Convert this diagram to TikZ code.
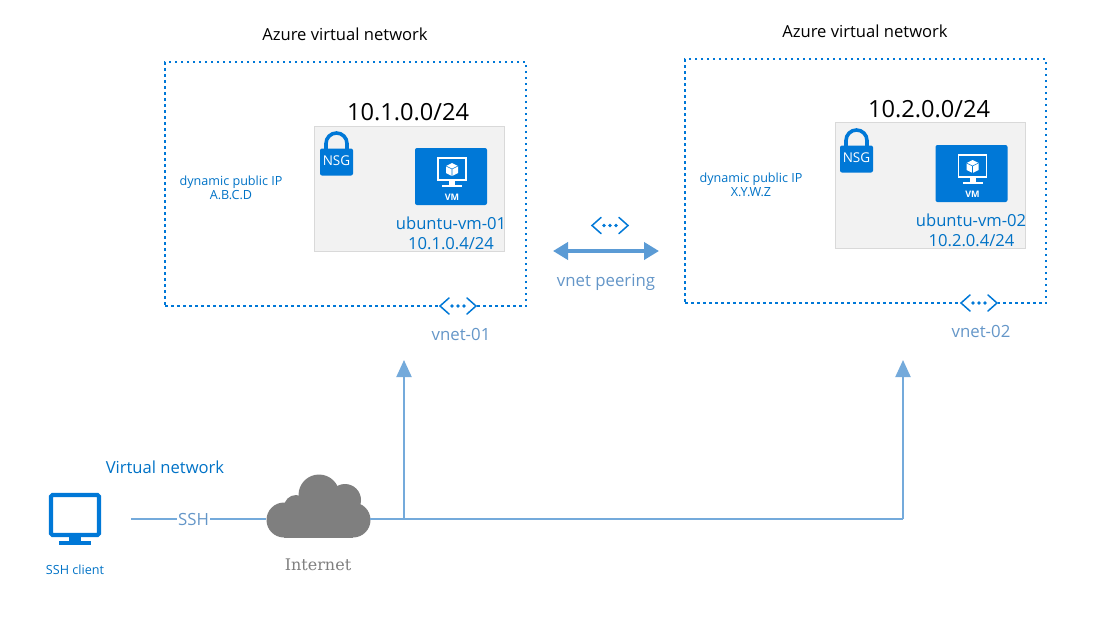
\documentclass[tikz,border=0pt]{standalone}
\usepackage{fontspec}
\setmainfont{Open Sans}
\newfontfamily\serifname{DejaVu Serif}
\usetikzlibrary{arrows.meta}
\definecolor{azureblue}{HTML}{0078D7}
\definecolor{textblue}{HTML}{0072C6}
\definecolor{linkblue}{HTML}{5B9BD5}
\definecolor{labelblue}{HTML}{6496C8}
\definecolor{panelgray}{HTML}{F2F2F2}
\definecolor{cloudgray}{HTML}{7F7F7F}
\newcommand{\fs}[1]{\fontsize{#1}{#1}\selectfont}
\tikzset{
  vnetbox/.style = {draw = azureblue, line width = 2.5pt, dash pattern = on 2.5pt off 3.5pt, minimum width = 361pt, minimum height = 244pt},
  subnetbox/.style = {draw = black!15, fill = panelgray, line width = 0.9pt, minimum width = 190pt, minimum height = 125.5pt},
  vmbox/.style = {fill = azureblue, rounded corners = 2pt, minimum width = 72pt, minimum height = 57pt},
  titlelabel/.style = {font = \fs{16.6}, text = black, inner sep = 0pt},
  cidrlabel/.style = {font = \fs{23.6}, text = black, inner sep = 0pt},
  bluelabel/.style = {font = \fs{16.6}, text = textblue, inner sep = 0pt, align = center},
  smalllabel/.style = {font = \fs{12.6}, text = textblue, inner sep = 0pt, align = center},
  palelabel/.style = {font = \fs{16.8}, text = labelblue, inner sep = 0pt},
  link/.style = {draw = linkblue!85, line width = 2.1pt},
  uplink/.style = {link, -{Triangle[width = 15pt, length = 17pt]}},
  peerlink/.style = {draw = linkblue, line width = 4.5pt, {Triangle[width = 17pt, length = 15pt]}-{Triangle[width = 17pt, length = 15pt]}},
  % vnet glyph: two chevrons and three dots
  vnet icon/.pic = {
    \draw[azureblue, line width = 1.5pt, line cap = round] (-9, -8) -- (-18, 0) -- (-9, 8) (9, -8) -- (18, 0) -- (9, 8);
    \foreach \dotx in {-6, 0, 6}
      \fill[azureblue] (\dotx, 0) circle (1.9pt);
  },
  vm icon/.pic = {
    \draw[white, line width = 1.8pt] (-14, -18) rectangle (14, 4);
    \fill[white] (-3, 4) rectangle (3, 9);
    \fill[white] (-10, 9) rectangle (10, 11);
    \fill[white] (0, -13) -- (6, -10) -- (6, -3) -- (0, 0) -- (-6, -3) -- (-6, -10) -- cycle;
    \draw[azureblue, line width = 0.6pt] (-6, -10) -- (0, -7) -- (6, -10) (0, -7) -- (0, 0);
    \node[white, inner sep = 0pt, font = \bfseries\fs{9}] at (0, 21) {VM};
  },
  nsg icon/.pic = {
    \draw[azureblue, line width = 3.6pt] (-10.5, 2) -- (-10.5, -6) arc[start angle = 180, end angle = 0, radius = 10.5pt] -- (10.5, 2);
    \fill[azureblue, rounded corners = 2pt] (-16.5, -1) rectangle (16.5, 26);
    \node[white, inner sep = 0pt, font = \fs{13.5}] at (0, 11.5) {NSG};
  },
  monitor icon/.pic = {
    \draw[azureblue, line width = 4.2pt, rounded corners = 1.5pt] (-24, -22) rectangle (24, 18);
    \fill[azureblue] (-6, 20) rectangle (6, 24);
    \fill[azureblue] (-16, 24) rectangle (16, 28);
  },
  cloud icon/.pic = {
    \fill[cloudgray] (-34, -10) rectangle (35, 18.5);
    \fill[cloudgray] (-34, 1) circle (17.5pt);
    \fill[cloudgray] (35, 1) circle (17.5pt);
    \fill[cloudgray] (1, -24) circle (20.5pt);
    \fill[cloudgray] (27, -19) circle (16pt);
    \fill[cloudgray] (-22, -12) circle (12pt);
    \fill[cloudgray] (-19, -24) rectangle (30, 0);
  }
}

\begin{document}
\begin{tikzpicture}[x = 1pt, y = -1pt]
\useasboundingbox (0, 0) rectangle (1100, 619);

\node (vnet_a) [vnetbox] at (345.5, 184) {};
\node (vnet_b) [vnetbox] at (865.5, 181) {};

\node (title_a) [titlelabel] at (345, 34) {Azure virtual network};
\node (title_b) [titlelabel] at (865, 31) {Azure virtual network};

\node (subnet_a) [subnetbox] at (409.5, 189) {};
\node (subnet_b) [subnetbox] at (930, 185.5) {};

\node (cidr_a) [cidrlabel] at (408, 112) {10.1.0.0/24};
\node (cidr_b) [cidrlabel] at (929, 109) {10.2.0.0/24};

\pic at (336.5, 149.5) {nsg icon};
\pic at (856.5, 146.5) {nsg icon};

\node (vm_a) [vmbox] at (451, 176.5) {};
\pic at (452, 176) {vm icon};
\node (vm_b) [vmbox] at (971.5, 173.5) {};
\pic at (972.5, 173) {vm icon};

\node (vm_name_a) [bluelabel] at (451, 223) {ubuntu-vm-01};
\node (vm_ip_a) [bluelabel] at (451, 244) {10.1.0.4/24};
\node (vm_name_b) [bluelabel] at (971, 220) {ubuntu-vm-02};
\node (vm_ip_b) [bluelabel] at (971.5, 241) {10.2.0.4/24};

\node (pip_a) [smalllabel] at (231, 188) {dynamic public IP\\[1.5pt]A.B.C.D};
\node (pip_b) [smalllabel] at (751, 185) {dynamic public IP\\[1.5pt]X.Y.W.Z};

% white patch so the dotted edge stops at the glyph
\node (vnet_glyph_a) [fill = white, minimum width = 38pt, minimum height = 6pt, inner sep = 0pt] at (458, 306) {};
\pic at (458, 306) {vnet icon};
\node (vnet_glyph_b) [fill = white, minimum width = 38pt, minimum height = 6pt, inner sep = 0pt] at (979, 303) {};
\pic at (979, 303) {vnet icon};
\pic at (610, 225.5) {vnet icon};

\node (vnet_name_a) [palelabel] at (461, 334) {vnet-01};
\node (vnet_name_b) [palelabel] at (981, 331) {vnet-02};

\coordinate (peer_left) at (553, 251);
\coordinate (peer_right) at (659, 251);
\draw[peerlink] (peer_left) -- (peer_right);
\node (peer_name) [palelabel] at (606, 282) {vnet peering};

\pic at (75, 517) {monitor icon};
\node (client_box) [minimum width = 52pt, minimum height = 52pt, inner sep = 0pt] at (75, 518) {};
\node (client_name) [smalllabel] at (75, 570) {SSH client};
\node (net_name) [bluelabel] at (165, 467) {Virtual network};

\pic at (318, 519) {cloud icon};
\node (internet_cloud) [minimum width = 104pt, minimum height = 62pt, inner sep = 0pt] at (318, 519) {};
\node (internet_name) [inner sep = 0pt, text = cloudgray, font = \serifname\fs{16}] at (318, 565) {Internet};

\coordinate (ssh_start) at (131, 519);
\node (ssh_name) [palelabel, inner sep = 1pt] at (193.5, 519) {SSH};
\draw[link] (ssh_start) -- (ssh_name);
\draw[link] (ssh_name) -- (internet_cloud.west);

\coordinate (branch) at (404, 519);
\coordinate (up_a) at (404, 360);
\coordinate (corner) at (903, 519);
\coordinate (up_b) at (903, 360);
\draw[link] (internet_cloud.east) -- (corner);
\draw[uplink] (branch) -- (up_a);
\draw[uplink] (corner) -- (up_b);

\end{tikzpicture}
\end{document}
